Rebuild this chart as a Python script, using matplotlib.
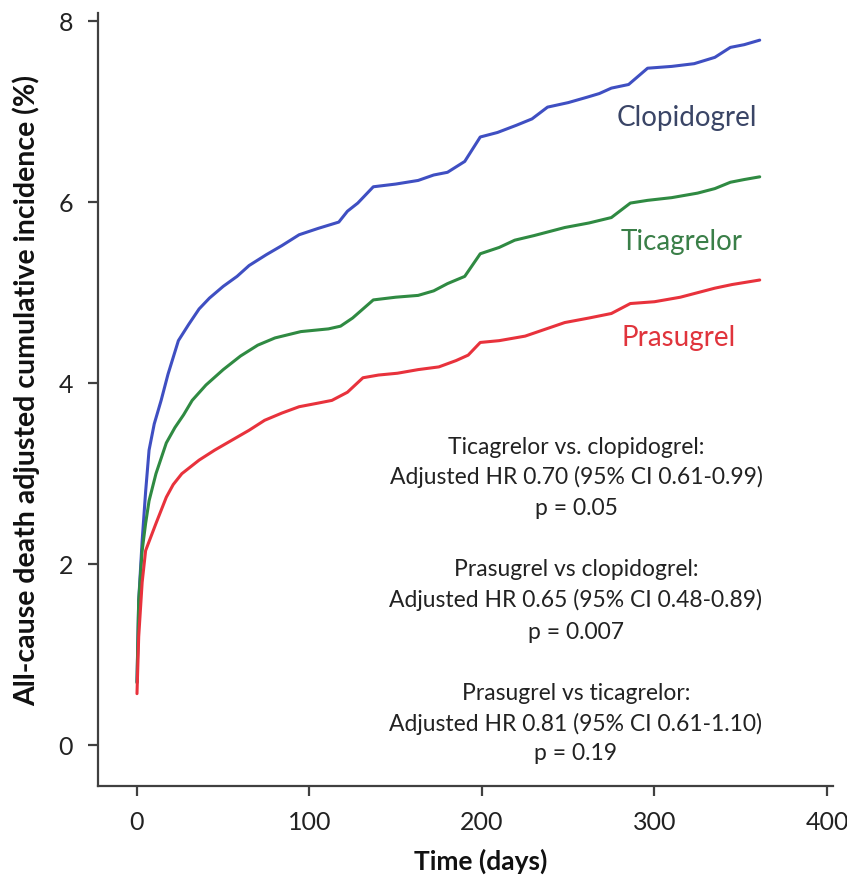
import matplotlib
matplotlib.use("Agg")
import matplotlib.pyplot as plt

plt.rcParams['font.family'] = ['Lato', 'DejaVu Sans']

# Data (days, cumulative incidence %)
clop_days = [0, 1, 3, 5, 7, 10, 14, 18, 24, 30, 36, 42, 50, 58, 65, 75, 84, 94, 105, 117, 122, 128, 137, 150, 163, 172, 180, 190, 199, 209, 220, 229, 238, 250, 261, 268, 275, 285, 296, 310, 323, 335, 344, 352, 361]
clop_vals = [0.7, 1.6, 2.26, 2.8, 3.26, 3.55, 3.81, 4.1, 4.47, 4.65, 4.82, 4.94, 5.07, 5.18, 5.3, 5.42, 5.52, 5.64, 5.71, 5.78, 5.9, 5.99, 6.17, 6.2, 6.24, 6.3, 6.33, 6.45, 6.72, 6.77, 6.85, 6.92, 7.05, 7.1, 7.16, 7.2, 7.26, 7.3, 7.48, 7.5, 7.53, 7.6, 7.71, 7.74, 7.79]

tica_days = [0, 1, 3, 5, 7, 11, 17, 22, 27, 32, 40, 50, 60, 70, 80, 95, 111, 118, 125, 137, 150, 163, 172, 180, 190, 199, 210, 219, 230, 248, 262, 275, 286, 296, 310, 325, 335, 344, 352, 361]
tica_vals = [0.69, 1.6, 2.15, 2.45, 2.7, 3.0, 3.34, 3.51, 3.65, 3.81, 3.98, 4.15, 4.3, 4.42, 4.5, 4.57, 4.6, 4.63, 4.72, 4.92, 4.95, 4.97, 5.02, 5.1, 5.18, 5.43, 5.5, 5.58, 5.63, 5.72, 5.77, 5.83, 5.99, 6.02, 6.05, 6.1, 6.15, 6.22, 6.25, 6.28]

pras_days = [0, 1, 3, 5, 8, 11, 17, 21, 26, 36, 45, 55, 65, 74, 84, 94, 105, 113, 122, 131, 140, 151, 163, 175, 185, 192, 199, 210, 225, 248, 262, 275, 286, 300, 315, 325, 335, 345, 361]
pras_vals = [0.57, 1.2, 1.8, 2.15, 2.3, 2.45, 2.74, 2.88, 3.0, 3.15, 3.26, 3.37, 3.48, 3.59, 3.67, 3.74, 3.78, 3.81, 3.9, 4.06, 4.09, 4.11, 4.15, 4.18, 4.25, 4.31, 4.45, 4.47, 4.52, 4.67, 4.72, 4.77, 4.88, 4.9, 4.95, 5.0, 5.05, 5.09, 5.14]

series_names = ["Clopidogrel", "Ticagrelor", "Prasugrel"]
x_ticks = [0, 100, 200, 300, 400]
y_ticks = [0, 2, 4, 6, 8]

annotations = [
    ["Ticagrelor vs. clopidogrel:", "Adjusted HR 0.70 (95% CI 0.61-0.99)", "p = 0.05"],
    ["Prasugrel vs clopidogrel:", "Adjusted HR 0.65 (95% CI 0.48-0.89)", "p = 0.007"],
    ["Prasugrel vs ticagrelor:", "Adjusted HR 0.81 (95% CI 0.61-1.10)", "p = 0.19"],
]

line_colors = ["#3f4fc2", "#2f8a42", "#e8323c"]
label_colors = ["#3a4566", "#3a7f48", "#e0343c"]

fig = plt.figure(figsize=(8.47, 8.84), dpi=100)
ax = fig.add_axes([0.1157, 0.1109, 0.8678, 0.8744])

for d, v, c in zip([clop_days, tica_days, pras_days],
                   [clop_vals, tica_vals, pras_vals], line_colors):
    ax.plot(d, v, color=c, lw=2.2, solid_joinstyle='round', solid_capstyle='round')

ax.set_xlim(-22.6, 403.5)
ax.set_ylim(-0.45, 8.09)
ax.set_xticks(x_ticks)
ax.set_yticks(y_ticks)
for s in ['top', 'right']:
    ax.spines[s].set_visible(False)
for s in ['left', 'bottom']:
    ax.spines[s].set_color('#404040')
    ax.spines[s].set_linewidth(1.6)
ax.tick_params(axis='both', colors='#404040', labelcolor='#222222', labelsize=18,
               length=7, width=1.6, direction='out')
ax.tick_params(axis='x', pad=11)
ax.tick_params(axis='y', pad=11)

ax.set_xlabel("Time (days)", fontsize=19, fontweight='bold', color='#111111')
ax.xaxis.label.set_va('center')
ax.xaxis.set_label_coords(0.52, -0.098)
ax.set_ylabel("All-cause death adjusted cumulative incidence (%)", fontsize=20.5,
              fontweight='bold', color='#111111')
ax.yaxis.label.set_va('center')
ax.yaxis.set_label_coords(-0.098, 0.512)

label_pos = [(319, 6.93), (316, 5.56), (314, 4.5)]
for name, (lx, ly), c in zip(series_names, label_pos, label_colors):
    ax.text(lx, ly, name, color=c, fontsize=20, ha='center', va='center')

block_y = [[3.29, 2.96, 2.62], [1.94, 1.61, 1.25], [0.57, 0.24, -0.09]]
for lines, ys in zip(annotations, block_y):
    for t, yy in zip(lines, ys):
        ax.text(254.5, yy, t, fontsize=16.5, ha='center', va='center', color='#222222')

fig.savefig("out.png", dpi=100)
